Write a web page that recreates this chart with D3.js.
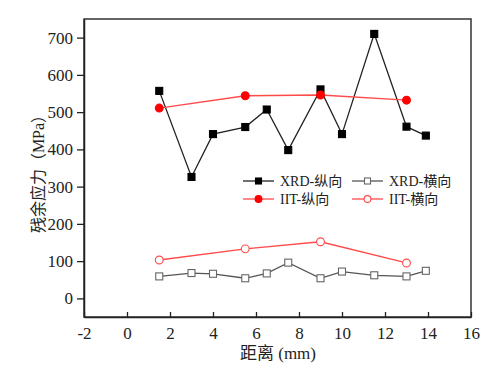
<!DOCTYPE html>
<html>
<head>
<meta charset="utf-8">
<script src="https://cdn.jsdelivr.net/npm/d3@7"></script>
<style>
  body { margin: 0; background: #fff; }
  svg { display: block; }
</style>
</head>
<body>
<svg id="chart"></svg>
<script>
// data
const xrdX = [1.5, 3, 4, 5.5, 6.5, 7.5, 9, 10, 11.5, 13, 13.9];
const xrdLong = [557, 326, 441, 460, 507, 398, 561, 441, 710, 461, 437];
const xrdTrans = [59, 68, 66, 54, 67, 96, 54, 72, 62, 59, 74];
const iitX = [1.5, 5.5, 9, 13];
const iitLong = [511, 544, 546, 532];
const iitTrans = [103, 133, 152, 95];
const xTicks = [-2, 0, 2, 4, 6, 8, 10, 12, 14, 16];
const yTicks = [0, 100, 200, 300, 400, 500, 600, 700];

const W = 500, H = 376;
const margin = { top: 19, right: 29, bottom: 59, left: 84 };
const width = W - margin.left - margin.right;
const height = H - margin.top - margin.bottom;
const numFont = "'Liberation Serif', 'Times New Roman', serif";
const cjkFont = "'Liberation Serif', 'Noto Sans CJK SC', serif";

const svg = d3.select('#chart').attr('width', W).attr('height', H);
const chart = svg.append('g').attr('transform', `translate(${margin.left},${margin.top})`);

const x = d3.scaleLinear().domain([-2, 16]).range([0, width]);
const y = d3.scaleLinear().domain([-50, 750]).range([height, 0]);

// frame
chart.append('rect')
  .attr('width', width).attr('height', height)
  .attr('fill', 'none').attr('stroke', '#333').attr('stroke-width', 1.5);

// x axis, ticks inside
const xAxisG = chart.append('g')
  .attr('transform', `translate(0,${height})`)
  .call(d3.axisBottom(x).tickValues(xTicks).tickFormat(d => String(d))
    .tickSize(-5).tickSizeOuter(0).tickPadding(10));
xAxisG.select('.domain').attr('stroke', '#222').attr('stroke-width', 1.5);
xAxisG.selectAll('.tick line').attr('stroke', '#222').attr('stroke-width', 1.3);
xAxisG.selectAll('text').attr('font-family', numFont).attr('font-size', 17).attr('fill', '#222');

// y axis, ticks outside
const yAxisG = chart.append('g')
  .call(d3.axisLeft(y).tickValues(yTicks).tickFormat(d => String(d))
    .tickSize(7).tickSizeOuter(0).tickPadding(4));
yAxisG.select('.domain').attr('stroke', '#222').attr('stroke-width', 1.5);
yAxisG.selectAll('.tick line').attr('stroke', '#222').attr('stroke-width', 1.3);
yAxisG.selectAll('text').attr('font-family', numFont).attr('font-size', 17).attr('fill', '#222');

// axis titles
svg.append('text')
  .attr('x', 278).attr('y', 359)
  .attr('text-anchor', 'middle')
  .attr('font-family', cjkFont).attr('font-size', 17).attr('fill', '#222')
  .text('距离 (mm)');

svg.append('text')
  .attr('transform', `translate(44,170) rotate(-90)`)
  .attr('text-anchor', 'middle')
  .attr('font-family', cjkFont).attr('font-size', 16).attr('fill', '#222')
  .text('残余应力（MPa）');

const series = [
  { name: 'XRD-纵向', xs: xrdX, ys: xrdLong, line: '#222', shape: 'square', fill: '#000', stroke: '#000' },
  { name: 'XRD-横向', xs: xrdX, ys: xrdTrans, line: '#555', shape: 'square', fill: '#fff', stroke: '#666' },
  { name: 'IIT-纵向', xs: iitX, ys: iitLong, line: '#ff4a4a', shape: 'circle', fill: '#ff0000', stroke: '#ff0000' },
  { name: 'IIT-横向', xs: iitX, ys: iitTrans, line: '#ff4a4a', shape: 'circle', fill: '#fff', stroke: '#ff4a4a' }
];

function drawMarker(g, s, cx, cy, size) {
  if (s.shape === 'square') {
    g.append('rect')
      .attr('x', cx - size / 2).attr('y', cy - size / 2).attr('width', size).attr('height', size)
      .attr('fill', s.fill).attr('stroke', s.stroke).attr('stroke-width', 1.1);
  } else {
    g.append('circle')
      .attr('cx', cx).attr('cy', cy).attr('r', size / 2 + 0.4)
      .attr('fill', s.fill).attr('stroke', s.stroke).attr('stroke-width', 1.1);
  }
}

const line = d3.line().x(d => x(d[0])).y(d => y(d[1]));

series.forEach(s => {
  const pts = s.xs.map((v, i) => [v, s.ys[i]]);
  chart.append('path')
    .attr('d', line(pts))
    .attr('fill', 'none').attr('stroke', s.line).attr('stroke-width', 1.3);
  const mg = chart.append('g');
  pts.forEach(p => drawMarker(mg, s, x(p[0]), y(p[1]), 7));
});

// legend
const legendPos = [[243, 181], [352, 181], [243, 199], [352, 199]];
series.forEach((s, i) => {
  const [lx, ly] = legendPos[i];
  const g = svg.append('g');
  g.append('line')
    .attr('x1', lx).attr('x2', lx + 31).attr('y1', ly).attr('y2', ly)
    .attr('stroke', s.line).attr('stroke-width', 1.3);
  drawMarker(g, s, lx + 15.5, ly, 6);
  g.append('text')
    .attr('x', lx + 37).attr('y', ly + 5)
    .attr('font-family', cjkFont).attr('font-size', 14).attr('fill', '#222')
    .text(s.name);
});
</script>
</body>
</html>
